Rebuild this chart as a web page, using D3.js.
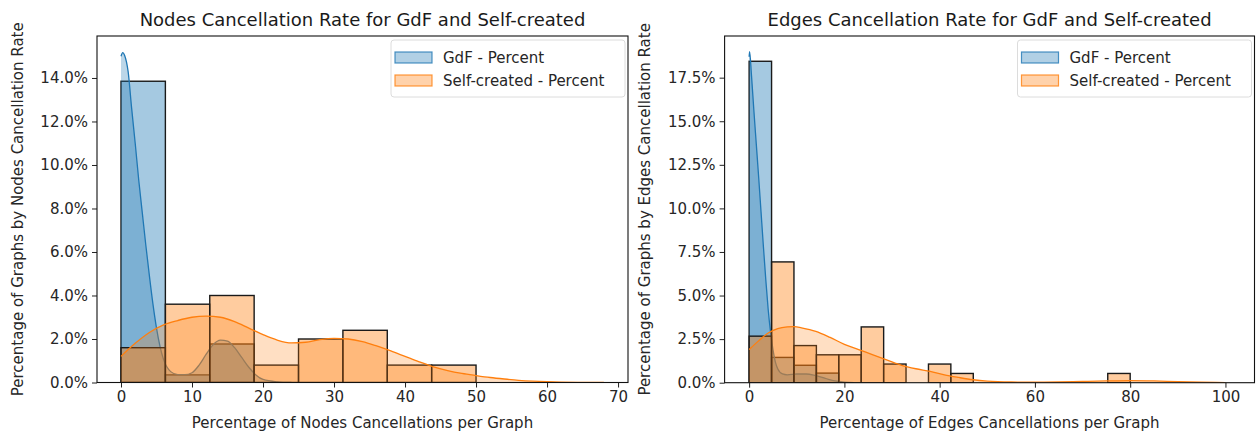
<!DOCTYPE html>
<html>
<head>
<meta charset="utf-8">
<script src="https://cdn.jsdelivr.net/npm/d3@7"></script>
<style>
  html, body { margin: 0; padding: 0; background: #fff; }
  svg { display: block; font-family: "DejaVu Sans", sans-serif; }
</style>
</head>
<body>
<svg id="chart" width="1256" height="432"></svg>
<script>
// ---- Nodes cancellation histogram (percent of graphs per bin) ----
const nodesBinEdges = [0, 6.25, 12.5, 18.75, 25, 31.25, 37.5, 43.75, 50];
const nodesGdf      = [13.85, 0.35, 1.77, 0, 0, 0, 0, 0];
const nodesSelf     = [1.6, 3.6, 4.0, 0.8, 2.0, 2.4, 0.8, 0.8];

// Density curves (same percent scale)
const nodesGdfKdeX  = [0, 0.25, 0.5, 1, 1.5, 2, 2.5, 3, 3.5, 4, 4.5, 5, 5.5, 6, 7, 8, 9, 10, 11, 12, 13, 14, 15, 16, 17, 18, 19, 20, 22, 24];
const nodesGdfKdeY  = [15.0, 15.17, 15.05, 14.3, 12.6, 11.0, 9.3, 7.8, 6.3, 4.9, 3.6, 2.5, 1.65, 1.05, 0.5, 0.36, 0.36, 0.45, 0.8, 1.3, 1.75, 1.95, 1.9, 1.6, 1.15, 0.7, 0.35, 0.14, 0.03, 0];
const nodesSelfKdeX = [0, 2, 4, 6, 8, 10, 12, 14, 16, 18, 20, 22, 24, 26, 28, 30, 32, 34, 36, 38, 40, 42, 44, 46, 48, 50, 52, 54, 56, 58, 60, 62, 65, 68];
const nodesSelfKdeY = [1.2, 1.8, 2.3, 2.65, 2.85, 3.0, 3.05, 3.0, 2.8, 2.5, 2.2, 1.95, 1.82, 1.85, 1.97, 2.03, 2.0, 1.88, 1.68, 1.45, 1.2, 0.95, 0.72, 0.55, 0.42, 0.32, 0.23, 0.16, 0.1, 0.06, 0.035, 0.02, 0.008, 0];
const nodesXTicks   = [0, 10, 20, 30, 40, 50, 60, 70];
const nodesYTicks   = [0, 2, 4, 6, 8, 10, 12, 14];

// ---- Edges cancellation histogram ----
const edgesBinEdges = [0, 4.71, 9.41, 14.12, 18.82, 23.53, 28.24, 32.94, 37.65, 42.35, 47.06, 51.76, 56.47, 61.18, 65.88, 70.59, 75.29, 80];
const edgesGdf      = [18.44, 1.45, 1.0, 0.55, 0, 0, 0, 0, 0, 0, 0, 0, 0, 0, 0, 0, 0];
const edgesSelf     = [2.67, 6.93, 2.13, 1.6, 1.6, 3.2, 1.07, 0, 1.07, 0.53, 0, 0, 0, 0, 0, 0, 0.53];

const edgesGdfKdeX  = [0, 0.1, 0.5, 1, 1.5, 2, 2.5, 3, 3.5, 4, 4.5, 5, 5.5, 6, 7, 8, 10, 12, 14, 16, 18, 20, 22];
const edgesGdfKdeY  = [18.7, 18.99, 17.6, 15.6, 13.7, 11.8, 9.8, 7.8, 5.9, 4.2, 2.9, 1.9, 1.2, 0.8, 0.5, 0.45, 0.5, 0.5, 0.4, 0.25, 0.1, 0.03, 0];
const edgesSelfKdeX = [0, 2, 4, 6, 8, 9.5, 11, 14, 17, 20, 23, 26, 29, 32, 35, 38, 41, 44, 47, 50, 55, 60, 65, 70, 75, 80, 85, 90, 95, 100];
const edgesSelfKdeY = [1.9, 2.4, 2.85, 3.1, 3.2, 3.22, 3.15, 2.95, 2.6, 2.2, 1.9, 1.6, 1.3, 1.0, 0.8, 0.65, 0.45, 0.3, 0.17, 0.09, 0.04, 0.03, 0.04, 0.07, 0.1, 0.12, 0.1, 0.06, 0.03, 0.01];
const edgesXTicks   = [0, 20, 40, 60, 80, 100];
const edgesYTicks   = [0, 2.5, 5, 7.5, 10, 12.5, 15, 17.5];

const seriesNames = ["GdF - Percent", "Self-created - Percent"];
const BLUE = "#1f77b4", ORANGE = "#ff7f0e";

const svg = d3.select("#chart");

function panel(cfg) {
  const g = svg.append("g");
  const x = d3.scaleLinear().domain(cfg.xDomain).range([cfg.left, cfg.right]);
  const y = d3.scaleLinear().domain([0, cfg.yMax]).range([cfg.bottom, cfg.top]);

  const clipId = "clip-" + cfg.id;
  svg.append("clipPath").attr("id", clipId).append("rect")
    .attr("x", cfg.left).attr("y", cfg.top)
    .attr("width", cfg.right - cfg.left).attr("height", cfg.bottom - cfg.top);
  const plot = g.append("g").attr("clip-path", `url(#${clipId})`);

  const area = d3.area().curve(d3.curveMonotoneX)
    .x(d => x(d[0])).y0(y(0)).y1(d => y(d[1]));
  const line = d3.line().curve(d3.curveMonotoneX)
    .x(d => x(d[0])).y(d => y(d[1]));

  function bars(vals, color) {
    const data = vals.map((v, i) => ({ x0: cfg.edges[i], x1: cfg.edges[i + 1], v }))
      .filter(d => d.v > 0);
    plot.append("g").selectAll("rect").data(data).join("rect")
      .attr("x", d => x(d.x0)).attr("width", d => x(d.x1) - x(d.x0))
      .attr("y", d => y(d.v)).attr("height", d => y(0) - y(d.v))
      .attr("fill", color).attr("fill-opacity", 0.4)
      .attr("stroke", "#1a1a1a").attr("stroke-width", 1.4);
  }
  function kde(xs, ys, color, fillOpacity) {
    const pts = xs.map((v, i) => [v, ys[i]]);
    plot.append("path").datum(pts).attr("d", area)
      .attr("fill", color).attr("fill-opacity", fillOpacity);
    plot.append("path").datum(pts).attr("d", line)
      .attr("fill", "none").attr("stroke", color).attr("stroke-width", 1.3);
  }

  bars(cfg.gdf, BLUE);
  kde(cfg.gdfKdeX, cfg.gdfKdeY, BLUE, 0.3);
  bars(cfg.self, ORANGE);
  kde(cfg.selfKdeX, cfg.selfKdeY, ORANGE, 0.25);

  // axes
  const xAxis = d3.axisBottom(x).tickValues(cfg.xTicks).tickSize(5).tickPadding(4).tickFormat(d3.format("d"));
  const yAxis = d3.axisLeft(y).tickValues(cfg.yTicks).tickSize(5).tickPadding(4).tickFormat(d => d.toFixed(1) + "%");
  const gx = g.append("g").attr("transform", `translate(0,${cfg.bottom})`).call(xAxis);
  const gy = g.append("g").attr("transform", `translate(${cfg.left},0)`).call(yAxis);
  [gx, gy].forEach(a => {
    a.select(".domain").remove();
    a.selectAll("line").attr("stroke", "#222").attr("stroke-width", 1);
    a.selectAll("text").attr("fill", "#262626").style("font-size", "15px").style("font-family", "DejaVu Sans");
  });

  // frame
  g.append("rect").attr("x", cfg.left).attr("y", cfg.top)
    .attr("width", cfg.right - cfg.left).attr("height", cfg.bottom - cfg.top)
    .attr("fill", "none").attr("stroke", "#111").attr("stroke-width", 1.1);

  // titles
  g.append("text").attr("x", (cfg.left + cfg.right) / 2).attr("y", 26)
    .attr("text-anchor", "middle").style("font-size", "18px").attr("fill", "#1a1a1a").text(cfg.title);
  g.append("text").attr("x", (cfg.left + cfg.right) / 2).attr("y", 428)
    .attr("text-anchor", "middle").style("font-size", "15px").attr("fill", "#262626").text(cfg.xLabel);
  g.append("text").attr("transform", `translate(${cfg.yLabelX},${(cfg.top + cfg.bottom) / 2}) rotate(-90)`)
    .attr("text-anchor", "middle").style("font-size", "15px").attr("fill", "#262626").text(cfg.yLabel);

  // legend
  const lg = g.append("g").attr("transform", `translate(${cfg.right - 237},40)`);
  lg.append("rect").attr("x", 0).attr("y", 0).attr("width", 234).attr("height", 57).attr("rx", 3)
    .attr("fill", "#fff").attr("fill-opacity", 0.8).attr("stroke", "#dcdcdc").attr("stroke-width", 1);
  [BLUE, ORANGE].forEach((c, i) => {
    const row = lg.append("g").attr("transform", `translate(0,${12 + i * 23})`);
    row.append("rect").attr("x", 4).attr("y", 0).attr("width", 37).attr("height", 11)
      .attr("fill", c).attr("fill-opacity", 0.35).attr("stroke", c).attr("stroke-opacity", 0.8).attr("stroke-width", 1.2);
    row.append("text").attr("x", 52).attr("y", 11).style("font-size", "15px").attr("fill", "#262626").text(seriesNames[i]);
  });
}

panel({
  id: "nodes", left: 97, right: 628, top: 36, bottom: 382.5,
  xDomain: [-3.38, 71.4], yMax: 15.93,
  edges: nodesBinEdges, gdf: nodesGdf, self: nodesSelf,
  gdfKdeX: nodesGdfKdeX, gdfKdeY: nodesGdfKdeY, selfKdeX: nodesSelfKdeX, selfKdeY: nodesSelfKdeY,
  xTicks: nodesXTicks, yTicks: nodesYTicks,
  title: "Nodes Cancellation Rate for GdF and Self-created",
  xLabel: "Percentage of Nodes Cancellations per Graph",
  yLabel: "Percentage of Graphs by Nodes Cancellation Rate",
  yLabelX: 23
});

panel({
  id: "edges", left: 724.6, right: 1254.5, top: 36, bottom: 382.7,
  xDomain: [-5.15, 106.1], yMax: 19.89,
  edges: edgesBinEdges, gdf: edgesGdf, self: edgesSelf,
  gdfKdeX: edgesGdfKdeX, gdfKdeY: edgesGdfKdeY, selfKdeX: edgesSelfKdeX, selfKdeY: edgesSelfKdeY,
  xTicks: edgesXTicks, yTicks: edgesYTicks,
  title: "Edges Cancellation Rate for GdF and Self-created",
  xLabel: "Percentage of Edges Cancellations per Graph",
  yLabel: "Percentage of Graphs by Edges Cancellation Rate",
  yLabelX: 650
});
</script>
</body>
</html>
